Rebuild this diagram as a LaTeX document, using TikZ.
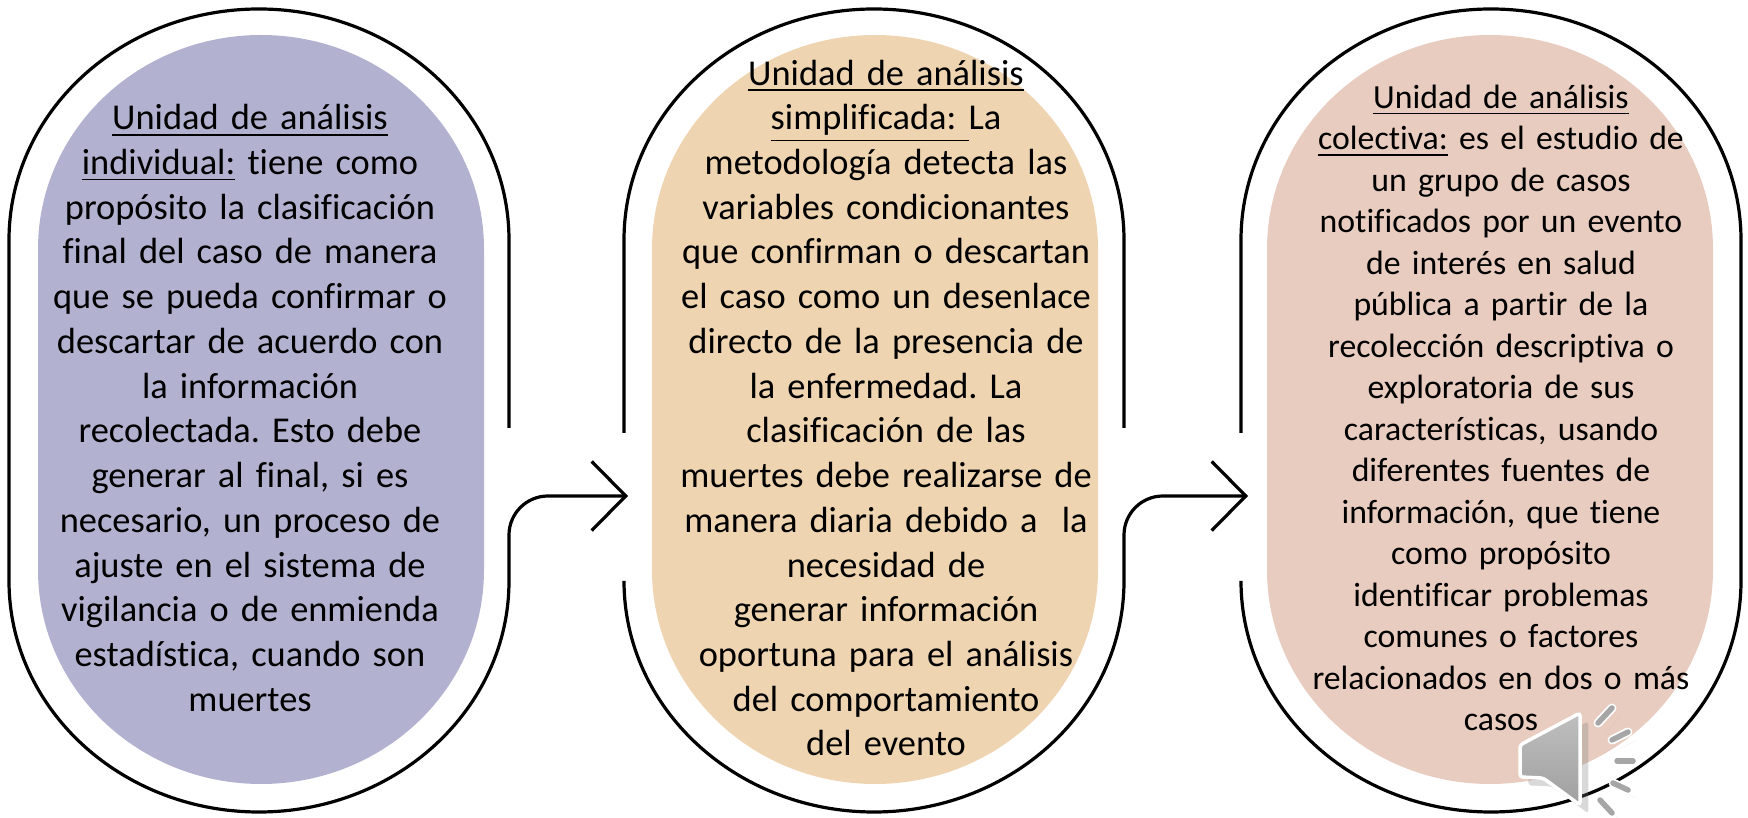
\documentclass[tikz,border=0pt]{standalone}
\usepackage{fontspec}
\setmainfont{Carlito}[Ligatures=CommonOff]
\frenchspacing
\usetikzlibrary{arrows.meta, shadows}

\begin{document}
\begin{tikzpicture}[x=0.01cm, y=0.01cm,
text_style/.style={text width=4.6cm, inner sep=0pt, align=center, font=\fontsize{10.35}{12.72}\selectfont},
small_text/.style={font=\fontsize{9.6}{11.8}\selectfont},
line_style/.style={line width=0.032cm, black},
arrow_style/.style={line_style, -{Straight Barb[length=0.34cm, width=0.69cm, line width=0.032cm]}},
speaker_style/.style={draw=white, line width=0.035cm, top color=gray!50, bottom color=gray!75, rounded corners=0.03cm, drop shadow={opacity=0.3}},
ray_style/.style={draw=white, line width=0.09cm, line cap=round, drop shadow={opacity=0.3}},
]
\definecolor{individual}{RGB}{178,178,208}
\definecolor{simplificada}{RGB}{238,212,176}
\definecolor{colectiva}{RGB}{232,204,192}

\useasboundingbox (0,0) rectangle (1748,818);

\foreach \x/\tono in {261/individual, 875/simplificada, 1490/colectiva}{
	\fill[\tono] (\x-223,248) -- (\x-223,569) arc[x radius=223, y radius=214, start angle=180, end angle=0] -- (\x+223,248) arc[x radius=223, y radius=214, start angle=360, end angle=180] -- cycle;
	}

\node[text_style] at (250,410) (text_individual) {\underline{Unidad de análisis}\\
\underline{individual:} tiene como\\
propósito la clasificación\\
final del caso de manera\\
que se pueda confirmar o\\
descartar de acuerdo con\\
la información\\
recolectada. Esto debe\\
generar al final, si es\\
necesario, un proceso de\\
ajuste en el sistema de\\
vigilancia o de enmienda\\
estadística, cuando son\\
muertes};

\node[text_style] at (886,410) (text_simplificada) {\underline{Unidad de análisis}\\
\underline{simplificada:\ }La\\
metodología detecta las\\
variables condicionantes\\
que confirman o descartan\\
el caso como un desenlace\\
directo de la presencia de\\
la enfermedad. La\\
clasificación de las\\
muertes debe realizarse de\\
manera diaria debido a\ \ la\\
necesidad de\\
generar información\\
oportuna para el análisis\\
del comportamiento\\
del evento};

\node[text_style, small_text] at (1501,410) (text_colectiva) {\underline{Unidad de análisis}\\
\underline{colectiva:} es el estudio de\\
un grupo de casos\\
notificados por un evento\\
de interés en salud\\
pública a partir de la\\
recolección descriptiva o\\
exploratoria de sus\\
características, usando\\
diferentes fuentes de\\
información, que tiene\\
como propósito\\
identificar problemas\\
comunes o factores\\
relacionados en dos o más\\
casos};

% outlines
\draw[line_style] (509,390) -- (509,578) arc[x radius=250, y radius=231, start angle=0, end angle=180] -- (9,237) arc[x radius=250, y radius=231, start angle=180, end angle=360] -- (509,283);
\draw[line_style] (624,385) -- (624,578) arc[x radius=250, y radius=231, start angle=180, end angle=0] -- (1124,390);
\draw[line_style] (624,232) -- (624,237) arc[x radius=250, y radius=231, start angle=180, end angle=360] -- (1124,283);
\draw[line_style] (1241,385) -- (1241,578) arc[x radius=250, y radius=231, start angle=180, end angle=0] -- (1741,237) arc[x radius=250, y radius=231, start angle=360, end angle=180] -- (1241,232);

% arrows
\foreach \nombre/\x/\y in {uno/509/628, dos/1124/1248}{
	\coordinate (bend_\nombre) at (\x,283);
	\coordinate (tip_\nombre) at (\y,322);
	\draw[arrow_style] (bend_\nombre) arc[radius=39, start angle=180, end angle=90] -- (tip_\nombre);
	}

% speaker
\draw[speaker_style] (1520,73) -- (1580,105) -- (1580,13) -- (1543,40) -- (1520,41) -- cycle;
\foreach \xa/\ya/\xb/\yb in {1598/95/1612/110, 1612/78/1628/86, 1617/57/1633/57, 1613/35/1628/28, 1600/18/1612/5}{
	\draw[ray_style] (\xa,\ya) -- (\xb,\yb);
	\draw[line width=0.055cm, line cap=round, gray!70] (\xa,\ya) -- (\xb,\yb);
	}

\end{tikzpicture}
\end{document}
